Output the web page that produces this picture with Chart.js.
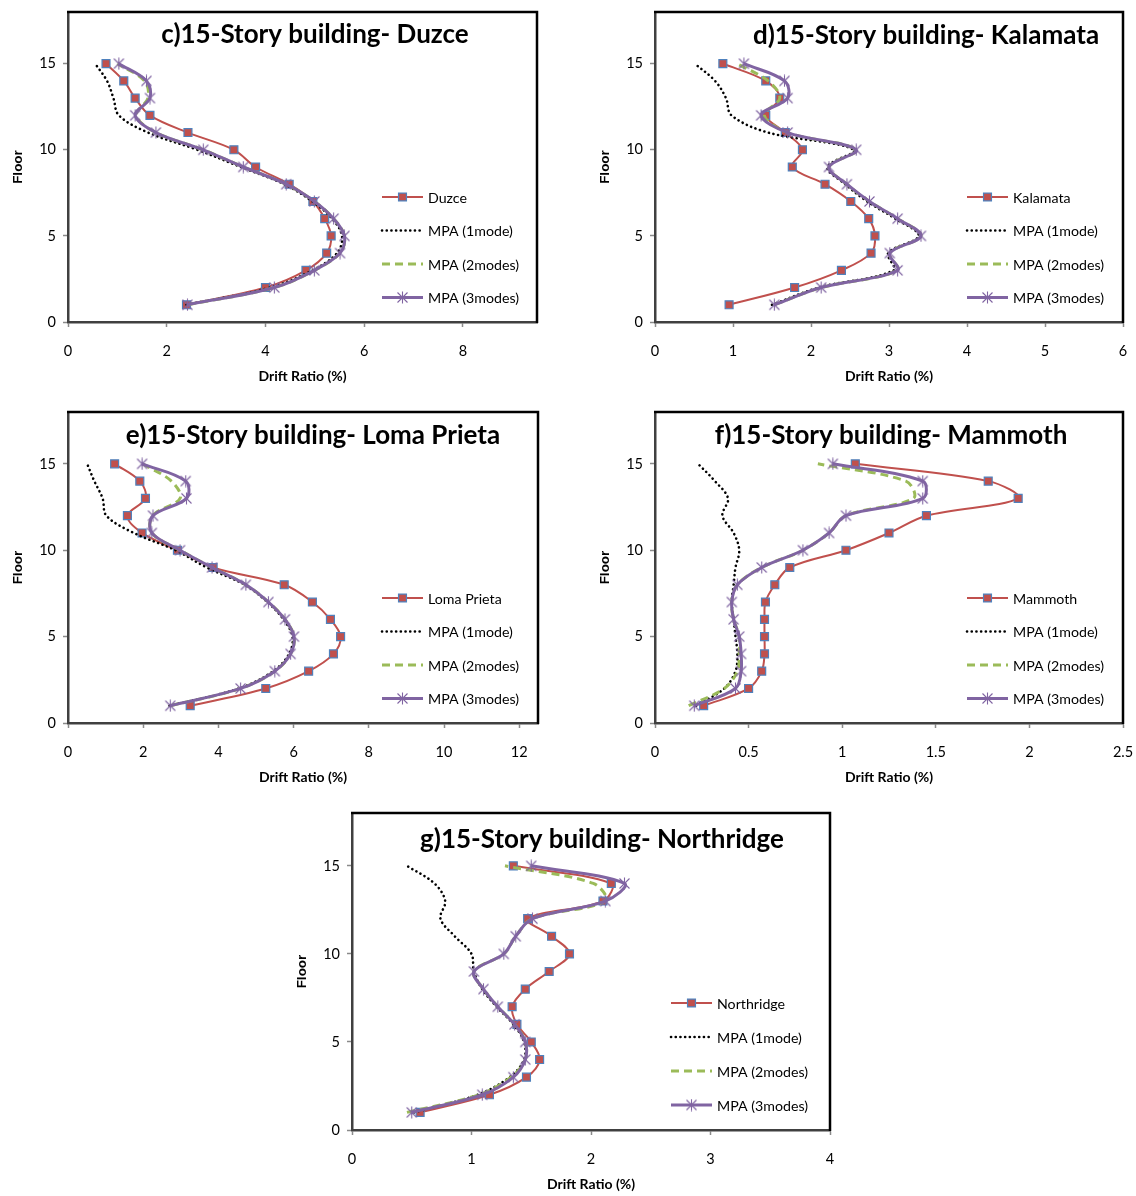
<!DOCTYPE html>
<html>
<head>
<meta charset="utf-8">
<title>15-Story building drift ratio profiles</title>
<script src="https://cdn.jsdelivr.net/npm/chart.js@4.4.0/dist/chart.umd.min.js"></script>
<style>
  html, body { margin: 0; padding: 0; background: #fff; overflow: hidden; }
  #page { position: relative; width: 1136px; height: 1196px; overflow: hidden; background: #fff; }
  #page canvas { position: absolute; }
</style>
</head>
<body>
<div id="page"></div>
<script>
// ---- data: storey drift ratio (%) per floor ----
const floors = [1, 2, 3, 4, 5, 6, 7, 8, 9, 10, 11, 12, 13, 14, 15];
const mpaLabels = ['MPA (1mode)', 'MPA (2modes)', 'MPA (3modes)'];
const xAxisTitle = 'Drift Ratio (%)';
const yAxisTitle = 'Floor';
const yTickStep = 5;
const yMax = 18;

const duzceRecord = [2.40, 4.00, 4.82, 5.24, 5.33, 5.20, 4.96, 4.48, 3.80, 3.36, 2.43, 1.66, 1.36, 1.13, 0.77];
const duzceMpa1   = [2.40, 4.10, 4.95, 5.45, 5.55, 5.35, 4.95, 4.38, 3.50, 2.62, 1.62, 1.03, 0.92, 0.79, 0.55];
const duzceMpa2   = [2.42, 4.18, 4.99, 5.51, 5.60, 5.38, 4.99, 4.42, 3.55, 2.74, 1.78, 1.38, 1.62, 1.55, 1.00];
const duzceMpa3   = [2.42, 4.18, 4.99, 5.51, 5.60, 5.38, 4.99, 4.42, 3.55, 2.74, 1.78, 1.36, 1.66, 1.59, 1.03];

const kalamataRecord = [0.95, 1.79, 2.39, 2.77, 2.82, 2.74, 2.51, 2.18, 1.76, 1.89, 1.67, 1.42, 1.60, 1.42, 0.87];
const kalamataMpa1   = [1.50, 2.10, 3.06, 2.99, 3.38, 3.08, 2.72, 2.44, 2.21, 2.55, 1.45, 0.98, 0.91, 0.77, 0.51];
const kalamataMpa2   = [1.53, 2.13, 3.11, 3.01, 3.41, 3.11, 2.75, 2.46, 2.23, 2.58, 1.70, 1.40, 1.60, 1.45, 1.05];
const kalamataMpa3   = [1.53, 2.13, 3.11, 3.01, 3.41, 3.11, 2.75, 2.46, 2.23, 2.58, 1.70, 1.36, 1.70, 1.66, 1.14];

const lomaRecord = [3.25, 5.26, 6.40, 7.06, 7.25, 6.98, 6.50, 5.75, 3.86, 2.91, 1.97, 1.58, 2.06, 1.91, 1.24];
const lomaMpa1   = [2.70, 4.55, 5.46, 5.88, 5.97, 5.73, 5.30, 4.70, 3.69, 2.86, 1.75, 1.02, 0.92, 0.70, 0.51];
const lomaMpa2   = [2.72, 4.59, 5.50, 5.92, 6.01, 5.77, 5.33, 4.73, 3.83, 2.98, 2.23, 2.25, 2.98, 2.75, 1.98];
const lomaMpa3   = [2.72, 4.59, 5.50, 5.92, 6.01, 5.77, 5.33, 4.73, 3.83, 2.98, 2.23, 2.26, 3.15, 3.13, 1.97];

const mammothRecord = [0.26, 0.50, 0.57, 0.585, 0.585, 0.585, 0.59, 0.64, 0.72, 1.02, 1.25, 1.45, 1.94, 1.78, 1.07];
const mammothMpa1   = [0.22, 0.37, 0.43, 0.44, 0.43, 0.42, 0.41, 0.42, 0.43, 0.45, 0.42, 0.36, 0.39, 0.32, 0.23];
const mammothMpa2   = [0.18, 0.37, 0.44, 0.45, 0.45, 0.42, 0.41, 0.44, 0.57, 0.79, 0.93, 1.02, 1.38, 1.34, 0.87];
const mammothMpa3   = [0.21, 0.43, 0.46, 0.46, 0.45, 0.42, 0.41, 0.44, 0.57, 0.79, 0.93, 1.02, 1.43, 1.43, 0.95];

const northridgeRecord = [0.57, 1.15, 1.46, 1.57, 1.50, 1.38, 1.34, 1.45, 1.65, 1.82, 1.67, 1.47, 2.10, 2.17, 1.35];
const northridgeMpa1   = [0.52, 1.05, 1.32, 1.44, 1.44, 1.35, 1.21, 1.09, 1.02, 1.00, 0.86, 0.74, 0.78, 0.69, 0.46];
const northridgeMpa2   = [0.46, 1.06, 1.33, 1.45, 1.45, 1.36, 1.22, 1.10, 1.02, 1.27, 1.37, 1.51, 2.12, 2.02, 1.28];
const northridgeMpa3   = [0.50, 1.09, 1.35, 1.45, 1.45, 1.36, 1.22, 1.10, 1.02, 1.27, 1.37, 1.51, 2.12, 2.28, 1.50];

// ---- panel layout (page pixels of each plot frame) ----
const panels = [
  { title: 'c)15-Story building- Duzce', record: 'Duzce',
    series: [duzceRecord, duzceMpa1, duzceMpa2, duzceMpa3], xMax: 9.5, xStep: 2,
    frame: { l: 68, t: 12, r: 537, b: 322 }, titleX: 315, titleDy: 31, legend: { x: 382, y: 197, dy: 33.5 } },
  { title: 'd)15-Story building- Kalamata', record: 'Kalamata',
    series: [kalamataRecord, kalamataMpa1, kalamataMpa2, kalamataMpa3], xMax: 6, xStep: 1,
    frame: { l: 655, t: 12, r: 1123, b: 322 }, titleX: 926, titleDy: 32, legend: { x: 967, y: 197, dy: 33.5 } },
  { title: 'e)15-Story building- Loma Prieta', record: 'Loma Prieta',
    series: [lomaRecord, lomaMpa1, lomaMpa2, lomaMpa3], xMax: 12.5, xStep: 2,
    frame: { l: 68, t: 412, r: 538, b: 723 }, titleX: 313, titleDy: 32, legend: { x: 382, y: 598, dy: 33.5 } },
  { title: 'f)15-Story building- Mammoth', record: 'Mammoth',
    series: [mammothRecord, mammothMpa1, mammothMpa2, mammothMpa3], xMax: 2.5, xStep: 0.5,
    frame: { l: 655, t: 412, r: 1123, b: 723 }, titleX: 891, titleDy: 32, legend: { x: 967, y: 598, dy: 33.5 } },
  { title: 'g)15-Story building- Northridge', record: 'Northridge',
    series: [northridgeRecord, northridgeMpa1, northridgeMpa2, northridgeMpa3], xMax: 4, xStep: 1,
    frame: { l: 352, t: 813, r: 830, b: 1130 }, titleX: 602, titleDy: 35, legend: { x: 671, y: 1003, dy: 34 } }
];

const AXIS_W = 68;    // space left of each frame (y axis)
const AXIS_H = 78;    // space below each frame (x axis)
const PAD_TOP = 12;
const PAD_RIGHT = 30;

// asterisk marker (x with a vertical bar)
function makeAsterisk(color) {
  const c = document.createElement('canvas');
  c.width = 13; c.height = 13;
  const g = c.getContext('2d');
  g.strokeStyle = color;
  g.lineWidth = 1.1;
  g.beginPath();
  g.moveTo(6.5, 0.5); g.lineTo(6.5, 12.5);
  g.moveTo(1.5, 1.5); g.lineTo(11.5, 11.5);
  g.moveTo(11.5, 1.5); g.lineTo(1.5, 11.5);
  g.stroke();
  return c;
}
const asterisk = makeAsterisk('#8064A2');

const toPoints = vals => floors.map((f, i) => ({ x: vals[i], y: f }));
const plainNumber = v => String(Math.round(v * 1000) / 1000);

// frame, title and in-plot legend
const panelDecor = {
  id: 'panelDecor',
  afterDraw(chart, args, opts) {
    const { ctx, chartArea: ca } = chart;
    ctx.save();
    // top and right frame edges
    ctx.strokeStyle = '#000';
    ctx.lineWidth = 2.5;
    ctx.beginPath();
    ctx.moveTo(ca.left - 1, ca.top);
    ctx.lineTo(ca.right, ca.top);
    ctx.lineTo(ca.right, ca.bottom + 1);
    ctx.stroke();

    // title
    ctx.fillStyle = '#000';
    ctx.font = 'bold 26px Lato';
    ctx.textAlign = 'center';
    ctx.textBaseline = 'alphabetic';
    ctx.fillText(opts.title, opts.titleX, ca.top + opts.titleDy);

    // legend
    const lg = opts.legend;
    chart.data.datasets.forEach((d, k) => {
      const y = lg.y + k * lg.dy;
      const x0 = lg.x, x1 = lg.x + 41;
      ctx.save();
      ctx.strokeStyle = d.borderColor;
      ctx.lineWidth = d.borderWidth;
      ctx.lineCap = d.borderCapStyle || 'butt';
      ctx.setLineDash(d.borderDash || []);
      ctx.beginPath();
      ctx.moveTo(x0, y);
      ctx.lineTo(x1, y);
      ctx.stroke();
      ctx.setLineDash([]);
      if (d.pointRadius > 0) {
        ctx.fillStyle = d.pointBackgroundColor;
        ctx.strokeStyle = d.pointBorderColor;
        ctx.lineWidth = d.pointBorderWidth;
        Chart.helpers.drawPoint(ctx, {
          pointStyle: d.pointStyle, radius: d.pointRadius, rotation: 0, borderWidth: d.pointBorderWidth
        }, (x0 + x1) / 2, y);
      }
      ctx.restore();
      ctx.fillStyle = '#000';
      ctx.font = '14.2px Lato';
      ctx.textAlign = 'left';
      ctx.textBaseline = 'middle';
      ctx.fillText(d.label, x1 + 5, y + 1);
    });
    ctx.restore();
  }
};

function buildPanel(p) {
  const cv = document.createElement('canvas');
  const left = p.frame.l - AXIS_W;
  const top = p.frame.t - PAD_TOP;
  const w = (p.frame.r - p.frame.l) + AXIS_W + PAD_RIGHT;
  const h = (p.frame.b - p.frame.t) + PAD_TOP + AXIS_H;
  cv.width = w; cv.height = h;
  cv.style.left = left + 'px';
  cv.style.top = top + 'px';
  cv.style.width = w + 'px';
  cv.style.height = h + 'px';
  document.getElementById('page').appendChild(cv);

  const [rec, m1, m2, m3] = p.series;
  const datasets = [
    { label: p.record, data: toPoints(rec), showLine: true, tension: 0.35, order: 3,
      borderColor: '#C0504D', borderWidth: 2,
      pointStyle: 'rect', pointRadius: 5.6, pointBackgroundColor: '#C0504D',
      pointBorderColor: '#4F81BD', pointBorderWidth: 1.2 },
    { label: mpaLabels[0], data: toPoints(m1), showLine: true, tension: 0.35, order: 2,
      borderColor: '#000000', borderWidth: 2.6, borderDash: [0.1, 4.6], borderCapStyle: 'round',
      pointRadius: 0 },
    { label: mpaLabels[1], data: toPoints(m2), showLine: true, tension: 0.35, order: 1,
      borderColor: '#9BBB59', borderWidth: 3, borderDash: [8, 5],
      pointRadius: 0 },
    { label: mpaLabels[2], data: toPoints(m3), showLine: true, tension: 0.35, order: 0,
      borderColor: '#8064A2', borderWidth: 3,
      pointStyle: asterisk, pointRadius: 6, pointBackgroundColor: '#8064A2',
      pointBorderColor: '#8064A2', pointBorderWidth: 1 }
  ];

  new Chart(cv, {
    type: 'scatter',
    data: { datasets },
    plugins: [panelDecor],
    options: {
      responsive: false,
      animation: false,
      devicePixelRatio: 1,
      events: [],
      layout: { padding: { top: PAD_TOP, right: PAD_RIGHT, left: 0, bottom: 0 } },
      plugins: {
        legend: { display: false },
        title: { display: false },
        tooltip: { enabled: false },
        panelDecor: { title: p.title, titleX: p.titleX - left, titleDy: p.titleDy,
                      legend: { x: p.legend.x - left, y: p.legend.y - top, dy: p.legend.dy } }
      },
      scales: {
        x: {
          type: 'linear', min: 0, max: p.xMax,
          ticks: { stepSize: p.xStep, includeBounds: false, padding: 16, color: '#000',
                   font: { family: 'Lato', size: 14.5 }, callback: plainNumber },
          grid: { drawOnChartArea: false, drawTicks: true, tickLength: 5, tickColor: '#8a8a8a', tickWidth: 1.5 },
          border: { color: '#404040', width: 2.5 },
          title: { display: true, text: xAxisTitle, color: '#000',
                   font: { family: 'Lato', weight: 'bold', size: 14 }, padding: { top: 0, bottom: 15 } },
          afterFit: s => { s.height = AXIS_H; s.paddingLeft = 0; s.paddingRight = 0; }
        },
        y: {
          type: 'linear', min: 0, max: yMax,
          ticks: { stepSize: yTickStep, includeBounds: false, padding: 7, color: '#000',
                   font: { family: 'Lato', size: 14.5 }, callback: plainNumber },
          grid: { drawOnChartArea: false, drawTicks: true, tickLength: 5, tickColor: '#8a8a8a', tickWidth: 1.5 },
          border: { color: '#404040', width: 2.5 },
          title: { display: true, text: yAxisTitle, color: '#000',
                   font: { family: 'Liberation Sans', weight: 'bold', size: 13.5 }, padding: { top: 10, bottom: 0 } },
          afterFit: s => { s.width = AXIS_W; s.paddingTop = 0; s.paddingBottom = 0; }
        }
      }
    }
  });
}

function start() { panels.forEach(buildPanel); }
if (document.fonts && document.fonts.load) {
  Promise.all([
    document.fonts.load('14px Lato'),
    document.fonts.load('bold 14px Lato'),
    document.fonts.load('bold 14px "Liberation Sans"')
  ]).then(start, start);
} else {
  start();
}
</script>
</body>
</html>
